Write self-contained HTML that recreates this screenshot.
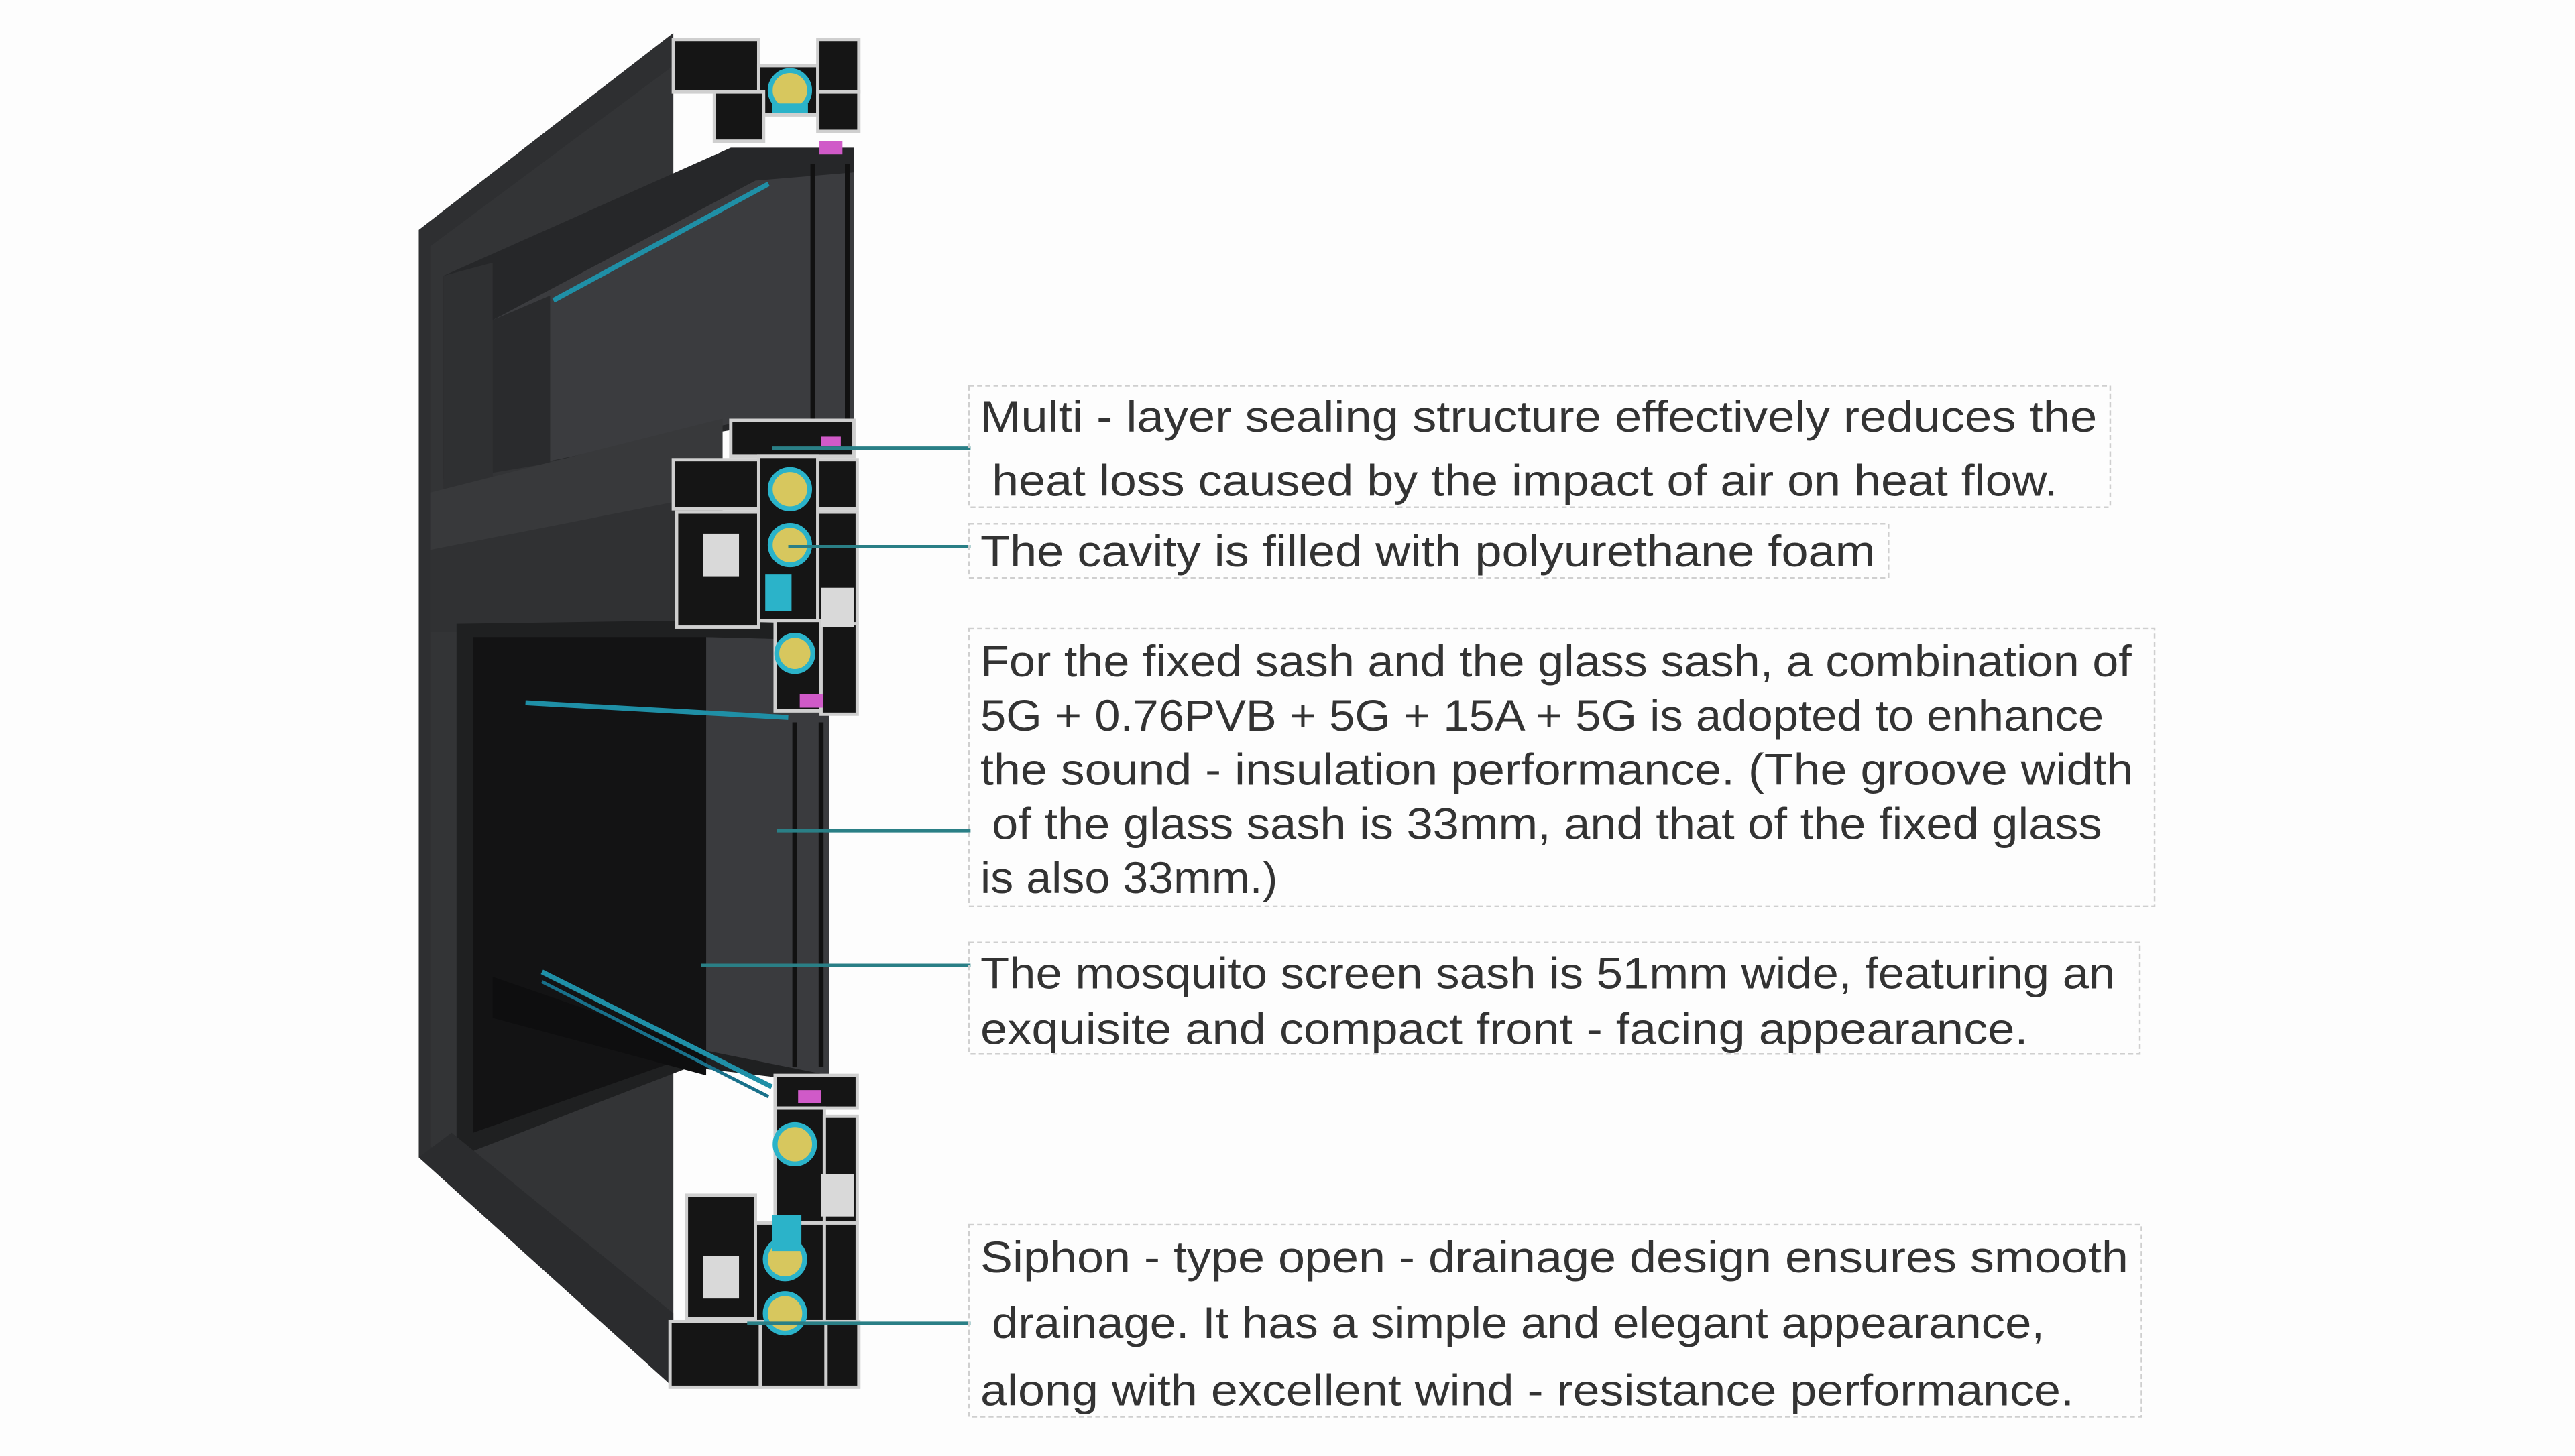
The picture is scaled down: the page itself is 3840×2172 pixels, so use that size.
<!DOCTYPE html>
<html><head><meta charset="utf-8"><style>
html,body{margin:0;padding:0;background:#fdfdfd;overflow:hidden}
#w{width:1568px;height:882px;transform:scale(2.44898);transform-origin:0 0;position:absolute;left:0;top:0}
text{font-family:"Liberation Sans",sans-serif;font-size:27px;fill:#333}
</style></head><body><div id="w">
<svg width="1568" height="882" viewBox="0 0 1568 882" xmlns="http://www.w3.org/2000/svg">
<rect width="1568" height="882" fill="#fdfdfd"/>
<!-- frame front -->
<polygon points="255,140 410,20 410,845 255,705" fill="#2e2f31"/>
<polygon points="262,150 410,40 410,830 262,698" fill="#333436"/>
<!-- upper opening -->
<polygon points="270,168 445,90 520,90 520,262 445,262 270,292" fill="#262729"/>
<polygon points="300,195 460,110 520,105 520,255 460,255 300,288" fill="#3b3c3f"/>
<polygon points="300,195 335,180 335,282 300,288" fill="#2a2b2d"/>
<polygon points="270,168 300,160 300,292 270,300" fill="#2f3032"/>
<line x1="337" y1="183" x2="468" y2="112" stroke="#1f8fa6" stroke-width="3"/>
<!-- transom -->
<polygon points="262,300 440,255 440,300 262,335" fill="#38393b"/>
<polygon points="262,335 440,300 440,385 262,385" fill="#303133"/>
<!-- lower opening -->
<polygon points="278,380 420,378 505,380 505,660 420,650 278,705" fill="#1f2021"/>
<polygon points="288,388 430,388 505,390 505,650 430,640 288,690" fill="#131314"/>
<polygon points="430,388 505,390 505,655 430,640" fill="#3a3b3e"/>
<polygon points="300,595 430,640 430,655 300,620" fill="#0e0e0f"/>
<line x1="320" y1="428" x2="480" y2="437" stroke="#1f8fa6" stroke-width="3"/>
<line x1="330" y1="592" x2="470" y2="662" stroke="#1f8fa6" stroke-width="3"/>
<line x1="330" y1="598" x2="468" y2="668" stroke="#18708a" stroke-width="2"/>
<!-- sill -->
<polygon points="255,705 410,845 410,800 275,690" fill="#2b2c2e"/>
<!-- glass lines -->
<line x1="495" y1="100" x2="495" y2="260" stroke="#111" stroke-width="3"/>
<line x1="516" y1="100" x2="516" y2="260" stroke="#111" stroke-width="3"/>
<line x1="484" y1="440" x2="484" y2="650" stroke="#111" stroke-width="3"/>
<line x1="500" y1="440" x2="500" y2="650" stroke="#111" stroke-width="3"/>
<g stroke="#cfcfcf" stroke-width="2" fill="#151515">
<!-- top section -->
<rect x="410" y="24" width="52" height="32"/><rect x="462" y="40" width="36" height="30"/>
<rect x="498" y="24" width="25" height="32"/><rect x="435" y="56" width="30" height="30"/>
<rect x="498" y="56" width="25" height="24"/>
<!-- middle section -->
<rect x="445" y="256" width="75" height="22"/><rect x="410" y="280" width="52" height="30"/>
<rect x="462" y="278" width="36" height="100"/><rect x="498" y="280" width="24" height="30"/>
<rect x="412" y="312" width="50" height="70"/><rect x="498" y="312" width="24" height="68"/>
<rect x="472" y="378" width="28" height="55"/><rect x="500" y="380" width="22" height="55"/>
<!-- bottom section -->
<rect x="472" y="655" width="50" height="20"/><rect x="472" y="675" width="30" height="70"/>
<rect x="502" y="680" width="20" height="65"/><rect x="418" y="728" width="42" height="75"/>
<rect x="460" y="745" width="42" height="60"/><rect x="502" y="745" width="20" height="60"/>
<rect x="408" y="805" width="55" height="40"/><rect x="463" y="805" width="40" height="40"/><rect x="503" y="805" width="20" height="40"/>
</g>
<g fill="#d7c75e" stroke="#2bb3c9" stroke-width="3">
<circle cx="481" cy="55" r="12"/><circle cx="481" cy="298" r="12"/><circle cx="481" cy="332" r="12"/>
<circle cx="484" cy="398" r="11"/><circle cx="484" cy="697" r="12"/><circle cx="478" cy="767" r="12"/><circle cx="478" cy="800" r="12"/>
</g>
<g fill="#d05ac8"><rect x="499" y="86" width="14" height="8"/><rect x="487" y="423" width="14" height="8"/><rect x="486" y="664" width="14" height="8"/><rect x="500" y="266" width="12" height="6"/></g>
<g fill="#2bb3c9"><rect x="466" y="350" width="16" height="22"/><rect x="470" y="740" width="18" height="22"/><rect x="470" y="63" width="22" height="6"/></g>
<g fill="#d9d9d9"><rect x="428" y="325" width="22" height="26"/><rect x="500" y="358" width="20" height="24"/><rect x="428" y="765" width="22" height="26"/><rect x="500" y="715" width="20" height="26"/></g>
<!-- leaders -->
<g stroke="#2a7f86" stroke-width="2">
<line x1="470" y1="273" x2="591" y2="273"/><line x1="480" y1="333" x2="591" y2="333"/>
<line x1="473" y1="506" x2="591" y2="506"/><line x1="427" y1="588" x2="591" y2="588"/>
<line x1="455" y1="806" x2="591" y2="806"/>
</g>
<!-- boxes -->
<g fill="none" stroke="#cfcfcf" stroke-width="1" stroke-dasharray="3,2">
<rect x="590" y="235" width="695" height="74"/><rect x="590" y="319" width="560" height="33"/>
<rect x="590" y="383" width="722" height="169"/><rect x="590" y="574" width="713" height="68"/>
<rect x="590" y="746" width="714" height="117"/>
</g>
<text x="597" y="263" textLength="680" lengthAdjust="spacingAndGlyphs">Multi - layer sealing structure effectively reduces the</text>
<text x="604" y="302" textLength="649" lengthAdjust="spacingAndGlyphs">heat loss caused by the impact of air on heat flow.</text>
<text x="597" y="345" textLength="545" lengthAdjust="spacingAndGlyphs">The cavity is filled with polyurethane foam</text>
<text x="597" y="412" textLength="701" lengthAdjust="spacingAndGlyphs">For the fixed sash and the glass sash, a combination of</text>
<text x="597" y="445" textLength="684" lengthAdjust="spacingAndGlyphs">5G + 0.76PVB + 5G + 15A + 5G is adopted to enhance</text>
<text x="597" y="478" textLength="702" lengthAdjust="spacingAndGlyphs">the sound - insulation performance. (The groove width</text>
<text x="604" y="511" textLength="676" lengthAdjust="spacingAndGlyphs">of the glass sash is 33mm, and that of the fixed glass</text>
<text x="597" y="544" textLength="181" lengthAdjust="spacingAndGlyphs">is also 33mm.)</text>
<text x="597" y="602" textLength="691" lengthAdjust="spacingAndGlyphs">The mosquito screen sash is 51mm wide, featuring an</text>
<text x="597" y="636" textLength="638" lengthAdjust="spacingAndGlyphs">exquisite and compact front - facing appearance.</text>
<text x="597" y="775" textLength="699" lengthAdjust="spacingAndGlyphs">Siphon - type open - drainage design ensures smooth</text>
<text x="604" y="815" textLength="641" lengthAdjust="spacingAndGlyphs">drainage. It has a simple and elegant appearance,</text>
<text x="597" y="856" textLength="666" lengthAdjust="spacingAndGlyphs">along with excellent wind - resistance performance.</text>
</svg></div></body></html>
